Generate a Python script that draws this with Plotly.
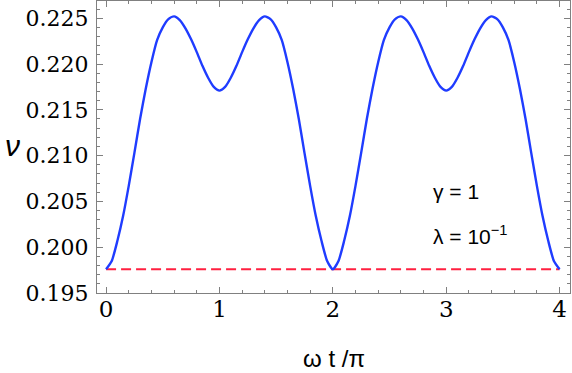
import plotly.graph_objs as go

# valores (periodo 2, dos periodos)
wt = [round(0.05 * i, 2) for i in range(81)]
nu = [
    0.1976, 0.1985, 0.2007, 0.2034, 0.2067, 0.2103, 0.2140, 0.2173, 0.2202, 0.2226,
    0.2240, 0.2249, 0.2252, 0.2248, 0.2239, 0.2227, 0.2213, 0.2198, 0.2185, 0.2175,
    0.2171, 0.2175, 0.2185, 0.2198, 0.2213, 0.2227, 0.2239, 0.2248, 0.2252, 0.2249,
    0.2240, 0.2226, 0.2202, 0.2173, 0.2140, 0.2103, 0.2067, 0.2034, 0.2007, 0.1985,
    0.1976, 0.1985, 0.2007, 0.2034, 0.2067, 0.2103, 0.2140, 0.2173, 0.2202, 0.2226,
    0.2240, 0.2249, 0.2252, 0.2248, 0.2239, 0.2227, 0.2213, 0.2198, 0.2185, 0.2175,
    0.2171, 0.2175, 0.2185, 0.2198, 0.2213, 0.2227, 0.2239, 0.2248, 0.2252, 0.2249,
    0.2240, 0.2226, 0.2202, 0.2173, 0.2140, 0.2103, 0.2067, 0.2034, 0.2007, 0.1985,
    0.1976,
]
base_x = [0, 4]
base_nu = [0.1976, 0.1976]

x_ticks = [0, 1, 2, 3, 4]
y_ticks = [0.195, 0.200, 0.205, 0.210, 0.215, 0.220, 0.225]
y_labels = ['0.195', '0.200', '0.205', '0.210', '0.215', '0.220', '0.225']

frame = '#808080'
serif = 'DejaVu Serif'
sans = 'Liberation Sans'

fig = go.Figure()

# linea base (roja, discontinua)
fig.add_trace(go.Scatter(
    x=base_x, y=base_nu,
    mode='lines',
    line=dict(color='#ff2040', width=2, dash='10px,5px'),
    showlegend=False
))

# curva principal (azul)
fig.add_trace(go.Scatter(
    x=wt, y=nu,
    mode='lines',
    line=dict(color='#1f3cff', width=2.4, shape='spline', smoothing=0.6),
    showlegend=False
))

fig.add_annotation(x=2.87, y=0.2061, xref='x', yref='y', text='γ = 1',
                   xanchor='left', yanchor='middle', showarrow=False,
                   font=dict(family=sans, size=21, color='black'))
fig.add_annotation(x=2.87, y=0.2013, xref='x', yref='y', text='λ = 10<sup>−1</sup>',
                   xanchor='left', yanchor='middle', showarrow=False,
                   font=dict(family=sans, size=21, color='black'))

# titulos de ejes como anotaciones
fig.add_annotation(x=0.50, y=-0.225, xref='paper', yref='paper', text='ω t /π',
                   xanchor='center', yanchor='middle', showarrow=False,
                   font=dict(family=sans, size=24, color='black'))
fig.add_annotation(x=-0.178, y=0.505, xref='paper', yref='paper', text='<i>ν</i>',
                   xanchor='center', yanchor='middle', showarrow=False,
                   font=dict(family=sans, size=30, color='black'))

fig.update_xaxes(
    range=[-0.08, 4.092],
    tickvals=x_ticks,
    ticks='inside', ticklen=6, tickcolor=frame, tickwidth=1,
    minor=dict(dtick=0.2, tick0=0, ticks='inside', ticklen=3, tickcolor=frame),
    showline=True, linecolor=frame, linewidth=1.3, mirror='ticks',
    showgrid=False, zeroline=False, automargin=False,
    ticklabelstandoff=-5,
    tickfont=dict(family=serif, size=23, color='black'),
)
fig.update_yaxes(
    range=[0.195, 0.22688],
    tickvals=y_ticks, ticktext=y_labels,
    ticks='inside', ticklen=6, tickcolor=frame, tickwidth=1,
    minor=dict(dtick=0.001, tick0=0.195, ticks='inside', ticklen=3, tickcolor=frame),
    showline=True, linecolor=frame, linewidth=1.3, mirror='ticks',
    showgrid=False, zeroline=False, automargin=False,
    ticklabelstandoff=3,
    tickfont=dict(family=serif, size=22, color='black'),
)

fig.update_layout(
    width=572, height=373,
    margin=dict(l=97, r=2, t=1, b=80),
    template='plotly_white',
    plot_bgcolor='white', paper_bgcolor='white',
)

# quitar el margen por defecto del body
fig.write_html('out.html', config={'displayModeBar': False},
               post_script="document.body.style.margin='0';")
